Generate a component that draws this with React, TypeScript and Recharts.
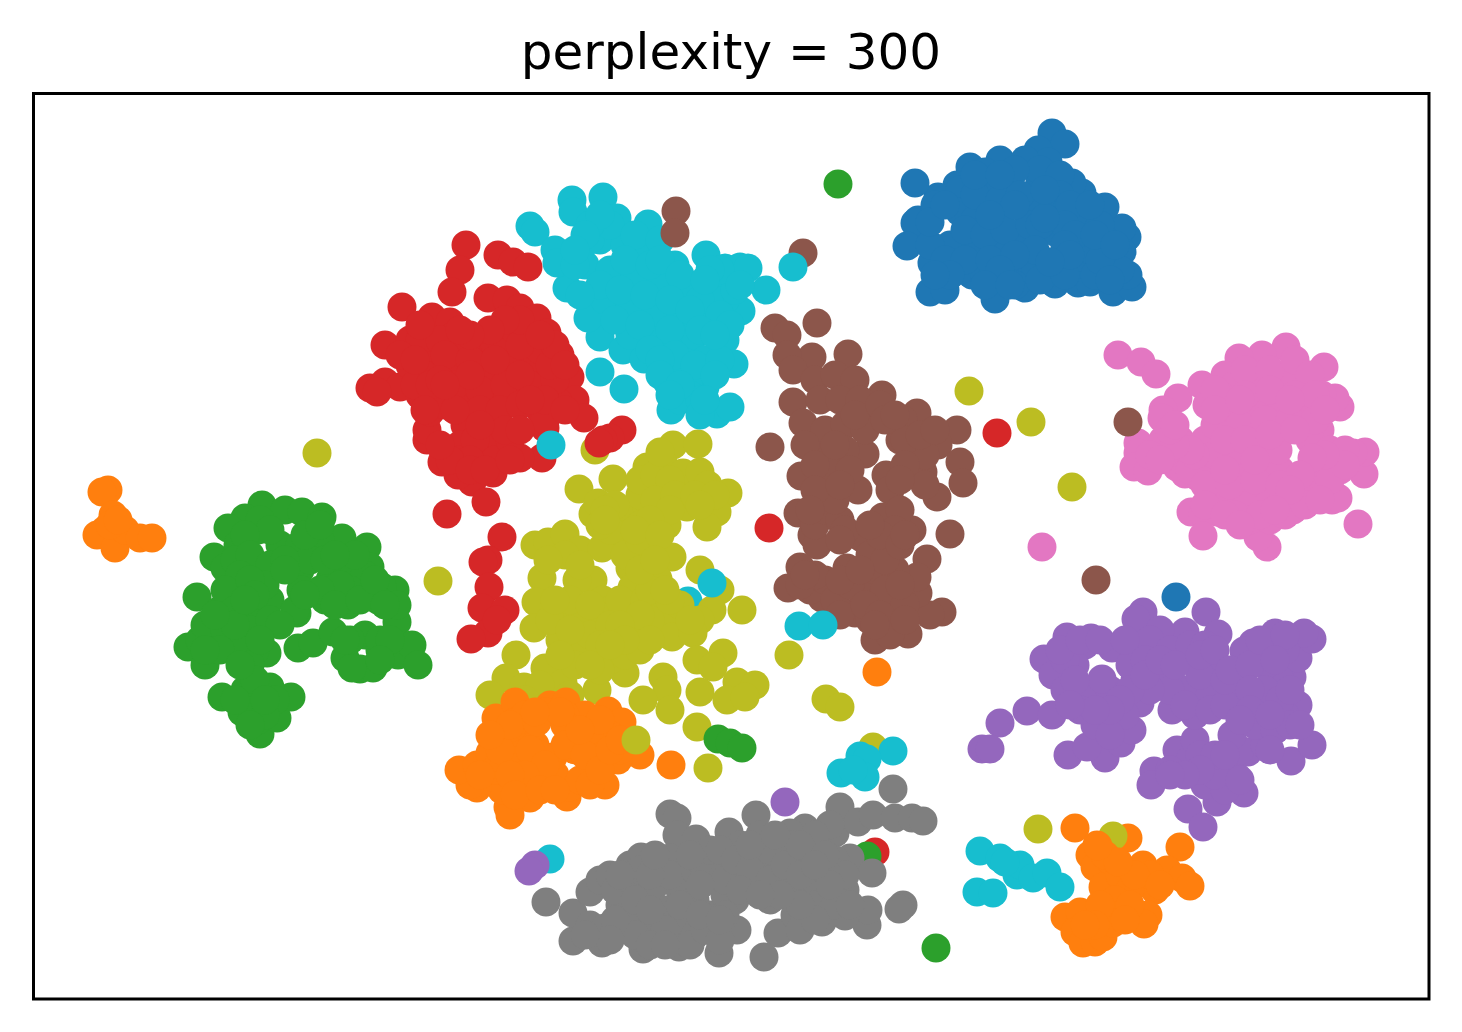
import { ReferenceArea, Scatter, ScatterChart, XAxis, YAxis } from "recharts";

type Pt = [number, number];

// embedding positions
const cyanBehind: Pt[] = [[688, 601]];
const orangeBehind: Pt[] = [[1128, 838]];

const olive: Pt[] = [
  [673, 445], [698, 444], [647, 467], [595, 450], [613, 479], [579, 489], [728, 493], [717, 512], [707, 527], [667, 525],
  [593, 514], [598, 503], [623, 517], [647, 507], [663, 463], [683, 473], [700, 472], [708, 485], [687, 507], [535, 545],
  [548, 542], [565, 534], [580, 550], [602, 548], [630, 548], [647, 553], [672, 557], [542, 578], [593, 580], [577, 580],
  [630, 568], [632, 588], [658, 579], [700, 570], [720, 590], [742, 610], [712, 610], [700, 620], [536, 602], [534, 628],
  [603, 600], [657, 610], [670, 617], [672, 637], [693, 633], [723, 653], [697, 660], [713, 667], [737, 682], [755, 685],
  [700, 692], [727, 700], [745, 697], [516, 655], [545, 668], [506, 678], [490, 695], [524, 687], [563, 683], [597, 690],
  [625, 673], [663, 677], [667, 690], [643, 700], [670, 710], [697, 727], [560, 610], [580, 620], [600, 630], [620, 640],
  [560, 640], [550, 620], [585, 650], [610, 660], [575, 665], [630, 615], [640, 635], [610, 610], [640, 525], [625, 535],
  [660, 490], [640, 495], [615, 505], [570, 600], [590, 605], [620, 600], [645, 600], [555, 600], [590, 635], [570, 630],
  [610, 625], [625, 655], [600, 670], [600, 645], [640, 650], [650, 620], [680, 605], [690, 620], [560, 655], [590, 665],
  [640, 480], [655, 475], [670, 480], [655, 500], [675, 495], [670, 510], [650, 520], [610, 530], [600, 525], [625, 555],
  [640, 540], [635, 530], [650, 590], [670, 600], [565, 555], [548, 560], [580, 565], [540, 685], [570, 695], [525, 700],
  [605, 510], [605, 520], [660, 535], [695, 495], [715, 495], [700, 505], [660, 452], [640, 570], [655, 560], [665, 590],
  [640, 615], [620, 625], [650, 640], [625, 640], [610, 645],
  [873, 747], [1113, 836], [1038, 829], [317, 453], [438, 581], [969, 391], [1031, 422], [1072, 487], [789, 655], [826, 699],
  [840, 707], [708, 768],
];

const red: Pt[] = [
  [466, 245], [460, 270], [452, 292], [498, 255], [513, 262], [528, 267], [488, 298], [507, 300], [520, 308], [537, 318],
  [547, 333], [402, 307], [432, 317], [450, 322], [482, 338], [385, 345], [370, 388], [385, 382], [400, 387], [377, 392],
  [560, 355], [570, 377], [575, 400], [558, 402], [584, 418], [622, 430], [610, 438], [603, 440], [599, 443], [542, 458],
  [520, 458], [493, 473], [472, 482], [458, 475], [442, 462], [427, 440], [427, 430], [430, 412], [486, 502], [447, 514],
  [502, 537], [488, 560], [483, 562], [489, 587], [482, 608], [505, 610], [488, 633], [471, 639], [497, 620], [410, 340],
  [430, 345], [455, 335], [480, 350], [505, 335], [525, 345], [410, 365], [435, 370], [460, 365], [485, 375], [510, 365],
  [535, 365], [420, 395], [445, 405], [470, 400], [495, 400], [520, 395], [545, 385], [465, 425], [490, 425], [540, 410],
  [460, 445], [480, 450], [500, 445], [460, 460], [420, 340], [440, 340], [465, 345], [495, 345], [515, 330], [540, 350],
  [425, 375], [400, 355], [455, 385], [480, 390], [505, 385], [530, 385], [555, 380], [550, 365], [415, 385], [520, 345],
  [430, 385], [480, 410], [455, 410], [500, 410], [520, 405], [475, 440], [495, 460], [510, 440], [470, 460], [545, 428],
  [505, 430], [545, 420], [450, 460], [445, 355], [470, 360], [495, 360], [470, 375], [440, 380], [520, 375], [545, 400],
  [530, 400], [520, 430], [415, 360], [420, 325], [520, 320], [505, 320], [555, 345], [565, 365], [490, 330], [470, 335],
  [460, 330], [540, 335], [425, 410], [445, 385], [470, 470], [485, 470], [510, 460], [440, 445], [480, 425], [565, 410],
  [854, 865], [875, 852], [997, 433], [769, 528],
];

const orange: Pt[] = [
  [496, 718], [515, 702], [550, 705], [566, 702], [585, 715], [608, 711], [622, 722], [600, 740], [640, 755], [618, 760],
  [605, 785], [567, 797], [530, 798], [508, 807], [510, 815], [502, 790], [477, 788], [470, 785], [459, 770], [477, 765],
  [490, 753], [510, 740], [530, 730], [580, 745], [553, 757], [530, 765], [500, 770], [590, 770], [620, 750], [545, 780],
  [520, 785], [570, 787], [515, 722], [525, 715], [545, 712], [565, 715], [575, 750], [535, 745], [600, 755], [610, 735],
  [590, 730], [600, 720], [570, 730], [510, 760], [520, 755], [495, 770], [480, 775], [500, 750], [510, 725], [490, 735],
  [537, 722], [565, 725], [565, 745], [540, 755], [555, 775], [580, 780], [585, 755], [530, 750], [545, 765], [525, 775],
  [510, 775], [515, 795], [540, 790], [555, 790], [590, 785], [600, 770], [580, 730], [610, 750], [560, 712], [535, 712],
  [620, 740],
  [877, 672], [671, 765],
  [108, 490], [102, 492], [113, 515], [105, 530], [97, 535], [115, 548], [125, 530], [140, 538], [152, 538], [110, 525], [118, 520],
  [1075, 828], [1180, 847], [1097, 845], [1090, 855], [1095, 867], [1143, 865], [1167, 870], [1182, 878], [1190, 886], [1103, 887],
  [1155, 890], [1148, 915], [1144, 924], [1065, 917], [1080, 912], [1075, 932], [1083, 943], [1095, 942], [1103, 937], [1113, 923],
  [1110, 860], [1120, 875], [1130, 890], [1115, 900], [1130, 905], [1100, 905], [1095, 925], [1085, 925], [1125, 920], [1105, 855],
  [1150, 875], [1135, 875], [1118, 862], [1160, 885],
];

const brown: Pt[] = [
  [775, 328], [787, 335], [817, 323], [812, 357], [848, 354], [787, 355], [793, 370], [793, 402], [803, 423], [882, 395],
  [917, 413], [903, 420], [957, 430], [938, 445], [960, 462], [963, 483], [770, 447], [817, 448], [865, 454], [801, 476],
  [858, 490], [937, 497], [923, 472], [886, 475], [890, 490], [798, 513], [912, 530], [950, 534], [812, 535], [817, 545],
  [927, 559], [800, 567], [788, 588], [822, 598], [942, 612], [930, 615], [908, 634], [875, 640], [855, 613], [847, 568],
  [862, 538], [887, 542], [883, 517], [918, 593], [917, 577], [815, 380], [835, 375], [855, 380], [820, 400], [840, 400],
  [860, 400], [870, 420], [900, 440], [825, 430], [845, 425], [865, 430], [845, 450], [830, 470], [850, 470], [825, 495],
  [815, 525], [825, 510], [840, 520], [845, 530], [810, 590], [825, 580], [835, 600], [860, 590], [880, 600], [870, 620],
  [895, 620], [900, 600], [875, 570], [895, 570], [885, 590], [870, 555], [885, 560], [905, 605], [900, 510], [895, 530],
  [925, 455], [905, 440], [920, 435], [835, 500], [850, 585], [815, 575], [840, 615], [805, 445], [815, 465], [815, 490],
  [810, 510], [840, 485], [835, 445], [855, 415], [880, 405], [885, 420], [895, 415], [935, 430], [905, 465], [925, 485],
  [900, 480], [880, 535], [900, 545], [905, 535], [870, 525], [840, 540], [800, 585], [805, 575], [840, 580], [860, 570],
  [865, 605], [880, 615], [890, 635], [875, 625], [905, 620], [900, 585], [803, 253], [1096, 580],
];

const green: Pt[] = [
  [262, 505], [285, 510], [302, 512], [322, 517], [245, 518], [228, 528], [214, 557], [225, 568], [197, 597], [188, 647],
  [205, 665], [222, 697], [242, 712], [260, 734], [277, 718], [291, 697], [270, 687], [267, 653], [298, 648], [313, 643],
  [333, 632], [345, 658], [360, 669], [373, 668], [365, 635], [397, 622], [398, 655], [412, 645], [418, 665], [395, 590],
  [367, 547], [342, 538], [382, 587], [370, 567], [297, 613], [348, 605], [238, 545], [258, 530], [280, 545], [300, 545],
  [320, 540], [345, 565], [365, 575], [378, 600], [350, 590], [330, 580], [300, 570], [260, 570], [240, 590], [220, 610],
  [250, 610], [270, 600], [295, 610], [215, 630], [200, 640], [235, 640], [255, 650], [250, 675], [250, 690], [258, 720],
  [301, 590], [325, 600], [260, 520], [270, 530], [245, 535], [235, 560], [250, 555], [270, 565], [265, 585], [240, 575],
  [225, 590], [235, 610], [250, 630], [270, 620], [310, 560], [325, 560], [340, 585], [355, 555], [320, 590], [335, 605],
  [360, 600], [375, 580], [205, 625], [225, 630], [240, 650], [250, 665], [245, 690], [255, 705], [275, 700], [265, 715],
  [250, 725], [352, 668], [380, 650], [380, 640], [350, 640], [397, 605], [285, 560], [285, 570], [305, 535], [320, 525],
  [335, 555], [250, 580], [255, 595], [235, 625], [215, 615], [220, 650], [205, 650], [245, 600], [280, 625], [305, 595],
  [385, 605], [390, 640], [345, 640], [380, 660], [255, 680], [265, 700], [235, 700], [260, 640], [240, 665],
  [838, 184], [936, 948], [718, 739], [730, 743], [742, 748], [867, 856],
];

const gray: Pt[] = [
  [670, 814], [677, 818], [677, 835], [696, 839], [729, 832], [756, 815], [805, 828], [790, 833], [840, 807], [835, 833],
  [858, 822], [873, 815], [893, 789], [895, 818], [912, 818], [923, 821], [850, 858], [872, 873], [903, 905], [899, 909],
  [867, 925], [868, 910], [845, 916], [822, 922], [778, 933], [764, 957], [719, 953], [679, 947], [643, 949], [602, 943],
  [573, 941], [546, 902], [573, 913], [590, 892], [600, 880], [610, 875], [630, 865], [641, 857], [670, 858], [737, 930],
  [620, 905], [650, 900], [680, 890], [710, 880], [735, 900], [770, 900], [800, 890], [825, 895], [845, 890], [800, 912],
  [680, 920], [710, 915], [650, 925], [620, 930], [695, 935], [660, 940], [590, 925], [830, 825], [615, 890], [635, 885],
  [655, 885], [670, 875], [695, 870], [720, 865], [755, 855], [785, 850], [815, 850], [835, 860], [845, 875], [815, 880],
  [785, 880], [755, 885], [725, 895], [695, 900], [665, 910], [635, 915], [605, 928], [690, 945], [705, 930], [720, 940],
  [665, 930], [635, 935], [615, 920], [795, 915], [815, 905], [835, 905], [850, 905], [800, 930], [700, 860], [760, 835],
  [790, 845], [815, 835], [740, 845], [710, 850], [770, 865], [800, 860], [740, 870], [640, 870], [825, 870], [690, 855],
  [720, 850], [725, 880], [700, 885], [680, 905], [650, 875], [635, 900], [650, 945], [665, 945], [735, 860], [750, 870],
  [770, 850], [770, 880], [785, 865], [800, 875], [800, 845], [825, 855], [830, 885], [815, 920], [800, 905], [780, 895],
  [750, 845], [775, 835], [700, 915], [725, 915], [720, 920], [650, 910], [740, 890], [760, 895], [815, 865], [610, 940],
  [585, 935], [655, 855], [620, 875],
];

const cyan: Pt[] = [
  [572, 200], [603, 197], [573, 212], [617, 218], [648, 224], [530, 226], [535, 232], [555, 250], [567, 288], [557, 263],
  [706, 255], [725, 268], [740, 267], [748, 268], [766, 290], [741, 311], [725, 340], [734, 364], [600, 337], [588, 318],
  [600, 372], [624, 389], [623, 350], [644, 359], [668, 383], [671, 410], [717, 414], [730, 407], [705, 387], [690, 377],
  [600, 240], [625, 245], [650, 250], [675, 265], [585, 265], [610, 270], [635, 275], [660, 285], [690, 295], [715, 285],
  [605, 300], [630, 305], [655, 315], [680, 320], [705, 315], [725, 300], [630, 335], [660, 340], [685, 345], [695, 335],
  [680, 365], [705, 360], [590, 240], [610, 225], [635, 235], [660, 240], [575, 265], [600, 285], [625, 260], [650, 265],
  [660, 260], [680, 275], [580, 295], [620, 290], [645, 295], [670, 300], [700, 300], [720, 315], [735, 290], [720, 270],
  [740, 285], [615, 320], [640, 325], [670, 330], [690, 310], [650, 350], [675, 355], [695, 365], [690, 395], [680, 400],
  [700, 400], [720, 360], [715, 375], [590, 225], [600, 215], [585, 235], [575, 250], [710, 270], [705, 280], [700, 330],
  [730, 325], [715, 335], [660, 360], [660, 375], [680, 385], [670, 395], [700, 415], [705, 400],
  [793, 267], [712, 583], [799, 626], [823, 625], [551, 445], [550, 859],
  [893, 751], [860, 756], [867, 759], [841, 773], [865, 777], [853, 770], [980, 851], [977, 892], [993, 893], [1000, 858],
  [1017, 875], [1020, 865], [1033, 878], [1047, 873], [1060, 887], [1005, 862],
];

const blue: Pt[] = [
  [1052, 133], [1065, 144], [1038, 150], [1048, 162], [970, 167], [1000, 160], [957, 185], [938, 197], [915, 183], [918, 220],
  [915, 223], [907, 246], [932, 263], [930, 292], [945, 290], [972, 275], [995, 299], [1025, 288], [1055, 284], [1078, 283],
  [1090, 282], [1113, 292], [1132, 287], [1128, 275], [1127, 237], [1122, 228], [1105, 207], [1082, 193], [1072, 183], [1122, 252],
  [985, 172], [1025, 160], [960, 190], [985, 195], [1010, 185], [1040, 180], [960, 212], [975, 220], [1000, 215], [1025, 210],
  [1050, 205], [1075, 220], [950, 245], [975, 250], [1000, 245], [1025, 240], [1055, 232], [1080, 245], [1105, 240], [960, 270],
  [985, 275], [1010, 270], [1035, 265], [1060, 262], [1085, 265], [1110, 265], [1040, 170], [1015, 170], [990, 185], [1060, 175],
  [1060, 195], [1040, 200], [975, 195], [1000, 200], [1020, 195], [965, 230], [985, 235], [1005, 230], [1030, 225], [1060, 220],
  [1090, 220], [1100, 225], [1090, 250], [930, 245], [945, 260], [965, 260], [990, 260], [1015, 285], [1040, 280], [1065, 275],
  [1095, 275], [1120, 270], [1105, 250], [935, 205], [930, 222], [1070, 205], [1065, 225], [1075, 235], [1040, 225], [1045, 218],
  [1065, 245], [1070, 255], [1035, 250], [1050, 262], [1015, 255], [1000, 270], [985, 285], [1010, 285], [950, 275], [935, 275],
  [945, 205], [975, 175], [1000, 175], [1015, 205], [990, 215], [1045, 190], [1090, 205], [1100, 260], [1110, 280], [1095, 235],
  [1115, 245], [1176, 597],
];

const pink: Pt[] = [
  [1118, 355], [1141, 362], [1156, 374], [1178, 398], [1163, 410], [1162, 418], [1138, 443], [1138, 453], [1134, 467], [1148, 471],
  [1163, 440], [1177, 467], [1185, 474], [1198, 477], [1191, 512], [1203, 513], [1217, 512], [1203, 536], [1267, 547], [1258, 537],
  [1293, 510], [1313, 500], [1332, 500], [1338, 498], [1358, 524], [1364, 474], [1365, 452], [1353, 453], [1340, 407], [1335, 398],
  [1324, 367], [1286, 347], [1262, 355], [1239, 358], [1202, 385], [1225, 375], [1207, 405], [1320, 430], [1235, 385], [1260, 380],
  [1285, 375], [1310, 385], [1230, 410], [1255, 405], [1280, 405], [1305, 410], [1180, 440], [1205, 440], [1230, 440], [1255, 435],
  [1280, 435], [1310, 440], [1190, 470], [1215, 470], [1240, 465], [1265, 465], [1280, 470], [1320, 470], [1220, 500], [1245, 500],
  [1270, 500], [1295, 500], [1250, 520], [1220, 395], [1245, 370], [1270, 370], [1295, 360], [1310, 375], [1215, 425], [1240, 425],
  [1265, 420], [1290, 420], [1315, 420], [1215, 455], [1240, 450], [1265, 450], [1278, 450], [1195, 455], [1205, 485], [1230, 485],
  [1255, 480], [1280, 485], [1305, 480], [1325, 470], [1340, 470], [1340, 460], [1235, 515], [1270, 520], [1285, 515], [1330, 480],
  [1322, 395], [1190, 450], [1175, 445], [1150, 455], [1160, 460], [1170, 430], [1175, 425], [1215, 390], [1215, 410], [1245, 395],
  [1270, 390], [1295, 395], [1315, 395], [1325, 410], [1330, 450], [1345, 450], [1345, 465], [1325, 455], [1312, 458], [1300, 475],
  [1290, 400], [1240, 400], [1225, 440], [1245, 440], [1270, 435], [1295, 430], [1205, 505], [1225, 515], [1260, 515], [1240, 525],
  [1305, 505], [1320, 500], [1290, 490], [1275, 510], [1255, 460], [1225, 470], [1042, 547],
];

const purple: Pt[] = [
  [1143, 612], [1136, 619], [1206, 612], [1218, 634], [1185, 632], [1067, 637], [1091, 638], [1044, 659], [1053, 675], [1065, 690],
  [1027, 711], [1052, 715], [1000, 723], [982, 749], [990, 749], [1068, 755], [1105, 758], [1087, 747], [1121, 743], [1132, 730],
  [1140, 703], [1172, 710], [1177, 750], [1154, 771], [1151, 785], [1188, 809], [1203, 827], [1217, 802], [1244, 793], [1237, 777],
  [1248, 752], [1291, 761], [1312, 745], [1298, 705], [1292, 677], [1298, 658], [1312, 639], [1304, 633], [1275, 633], [1253, 643],
  [1244, 651], [1217, 665], [1280, 680], [1210, 770], [1230, 770], [1190, 760], [1195, 740], [1240, 750], [1265, 745], [1085, 645],
  [1112, 648], [1135, 650], [1160, 645], [1185, 660], [1240, 675], [1265, 665], [1085, 695], [1110, 690], [1135, 680], [1160, 675],
  [1185, 690], [1210, 695], [1240, 700], [1265, 705], [1285, 715], [1095, 725], [1125, 715], [1195, 715], [1232, 735], [1255, 725],
  [1275, 730], [1075, 665], [1130, 665], [1102, 679], [1080, 710], [1110, 735], [1160, 630], [1150, 640], [1170, 650], [1200, 675],
  [1205, 785], [1225, 790], [1215, 775], [1200, 755], [1170, 770], [1265, 650], [1285, 650], [1265, 690], [1280, 700], [1290, 725],
  [1300, 725], [1170, 690], [1150, 690], [1190, 645], [1205, 645], [1065, 660], [1060, 650], [1075, 680], [1080, 640], [1100, 640],
  [1125, 640], [1145, 660], [1130, 690], [1120, 700], [1110, 710], [1095, 710], [1070, 705], [1145, 675], [1160, 660], [1175, 665],
  [1200, 655], [1215, 650], [1185, 705], [1210, 710], [1225, 705], [1225, 680], [1230, 670], [1250, 665], [1250, 690], [1250, 710],
  [1240, 720], [1260, 640], [1285, 635], [1275, 660], [1290, 690], [1270, 715], [1270, 750], [1215, 755], [1225, 755], [1200, 770],
  [1185, 775], [1170, 775], [1240, 780], [785, 802], [535, 865], [529, 871],
];

const oliveFront: Pt[] = [[636, 740]];
const orangeFront: Pt[] = [[1098, 846]];
const brownFront: Pt[] = [[676, 211], [675, 233], [1128, 422]];

const series: { name: string; color: string; points: Pt[] }[] = [
  { name: "cyanBehind", color: "#17becf", points: cyanBehind },
  { name: "orangeBehind", color: "#ff7f0e", points: orangeBehind },
  { name: "olive", color: "#bcbd22", points: olive },
  { name: "red", color: "#d62728", points: red },
  { name: "orange", color: "#ff7f0e", points: orange },
  { name: "brown", color: "#8c564b", points: brown },
  { name: "green", color: "#2ca02c", points: green },
  { name: "gray", color: "#7f7f7f", points: gray },
  { name: "cyan", color: "#17becf", points: cyan },
  { name: "blue", color: "#1f77b4", points: blue },
  { name: "pink", color: "#e377c2", points: pink },
  { name: "purple", color: "#9467bd", points: purple },
  { name: "oliveFront", color: "#bcbd22", points: oliveFront },
  { name: "orangeFront", color: "#ff7f0e", points: orangeFront },
  { name: "brownFront", color: "#8c564b", points: brownFront },
];

const xDomain = [33.5, 1429];
const yDomain = [93.5, 999];

function Dot({ cx, cy, fill }: { cx?: number; cy?: number; fill?: string }) {
  return <circle cx={cx} cy={cy} r={14.5} fill={fill} />;
}

export default function App() {
  return (
    <div style={{ position: "absolute", left: 0, top: 0, width: 1462, height: 1032, background: "#fff" }}>
      <div
        style={{
          position: "absolute",
          left: 33,
          width: 1396,
          top: 22,
          textAlign: "center",
          fontFamily: "DejaVu Sans",
          fontSize: 50,
          lineHeight: "60px",
          color: "#000",
        }}
      >
        perplexity = 300
      </div>
      <ScatterChart width={1462} height={1032} margin={{ top: 93.5, right: 33, bottom: 33, left: 33.5 }}>
        <XAxis type="number" dataKey="x" domain={xDomain} hide />
        <YAxis type="number" dataKey="y" domain={yDomain} reversed hide />
        {series.map((s) => (
          <Scatter
            key={s.name}
            name={s.name}
            data={s.points.map(([x, y]) => ({ x, y }))}
            fill={s.color}
            shape={Dot}
            isAnimationActive={false}
          />
        ))}
        <ReferenceArea
          x1={xDomain[0]}
          x2={xDomain[1]}
          y1={yDomain[0]}
          y2={yDomain[1]}
          fill="none"
          stroke="#000"
          strokeWidth={3}
          fillOpacity={0}
          strokeOpacity={1}
        />
      </ScatterChart>
    </div>
  );
}
